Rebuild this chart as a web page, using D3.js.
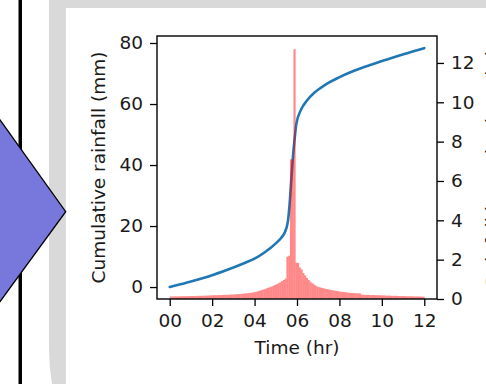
<!DOCTYPE html>
<html>
<head>
<meta charset="utf-8">
<script src="https://cdn.jsdelivr.net/npm/d3@7"></script>
<style>
  html, body { margin: 0; padding: 0; background: #fff; }
  svg { display: block; }
  text { font-family: "DejaVu Sans", sans-serif; fill: #1a1a1a; }
</style>
</head>
<body>
<div id="chart"></div>
<script>
const width = 486;
const height = 384;

// rainfall intensity, one bar every 5 minutes from 00:00 to 12:00 (right axis)
const intensity = [
  0.13, 0.13, 0.13, 0.13, 0.13, 0.14, 0.14, 0.14, 0.14, 0.14, 0.15, 0.15,
  0.15, 0.15, 0.15, 0.16, 0.16, 0.16, 0.16, 0.17, 0.17, 0.17, 0.18, 0.18,
  0.19, 0.19, 0.19, 0.20, 0.20, 0.20, 0.21, 0.21, 0.21, 0.22, 0.22, 0.23,
  0.23, 0.24, 0.24, 0.25, 0.26, 0.27, 0.28, 0.29, 0.30, 0.31, 0.32, 0.34,
  0.36, 0.38, 0.41, 0.44, 0.47, 0.50, 0.53, 0.56, 0.60, 0.63, 0.67, 0.71,
  0.75, 0.80, 0.85, 0.91, 0.97, 1.04, 2.15, 2.20, 7.10, 7.10, 12.7, 1.85,
  1.83, 1.60, 1.50, 1.32, 1.20, 1.07, 0.97, 0.88, 0.80, 0.74, 0.68, 0.63,
  0.60, 0.57, 0.55, 0.53, 0.51, 0.49, 0.47, 0.45, 0.44, 0.42, 0.41, 0.39,
  0.37, 0.36, 0.35, 0.34, 0.33, 0.32, 0.31, 0.30, 0.30, 0.29, 0.29, 0.28,
  0.22, 0.22, 0.21, 0.21, 0.21, 0.20, 0.20, 0.20, 0.19, 0.19, 0.19, 0.18,
  0.18, 0.18, 0.17, 0.17, 0.17, 0.16, 0.16, 0.16, 0.16, 0.15, 0.15, 0.15,
  0.15, 0.14, 0.14, 0.14, 0.14, 0.13, 0.13, 0.13, 0.13, 0.12, 0.12, 0.12
];
const barStep = 1 / 12; // hours

// cumulative rainfall (left axis)
const cumTime = [0, 0.5, 1, 1.5, 2, 2.5, 3, 3.5, 4, 4.5, 4.75, 5.0, 5.25, 5.4, 5.5,
  5.58, 5.65, 5.72, 5.8, 5.88, 5.97, 6.18, 6.49, 6.8, 7.12, 7.5, 7.91, 8.69, 9.49, 10.28, 11.06, 12.0];
const cumRain = [0, 0.9, 1.8, 2.8, 3.9, 5.1, 6.4, 7.8, 9.3, 11.5, 12.8, 14.3, 16.1, 17.6, 19.3,
  22, 27, 34, 42, 48, 53.5, 58, 61.3, 63.6, 65.3, 67.0, 68.5, 70.9, 72.9, 74.7, 76.4, 78.3];

const xTicks = [0, 2, 4, 6, 8, 10, 12];
const leftTicks = [0, 20, 40, 60, 80];
const rightTicks = [0, 2, 4, 6, 8, 10, 12];

const svg = d3.select("#chart")
    .append("svg")
    .attr("width", width)
    .attr("height", height);

// surroundings of the cropped figure
svg.append("rect")
    .attr("x", 49).attr("y", -200)
    .attr("width", 700).attr("height", 744)
    .attr("rx", 194)
    .attr("fill", "#d9d9d9");
svg.append("rect")
    .attr("x", 66).attr("y", 8)
    .attr("width", 500).attr("height", 400)
    .attr("fill", "#fff");
svg.append("rect")
    .attr("x", 18.5).attr("y", 0)
    .attr("width", 3.5).attr("height", height)
    .attr("fill", "#000");
svg.append("polygon")
    .attr("points", "-40,64 65.7,211.7 -40,356.5")
    .attr("fill", "#7878dc")
    .attr("stroke", "#000")
    .attr("stroke-width", 1.3);

const x = d3.scaleLinear().domain([-0.6, 12.6]).range([157, 437]);
const yL = d3.scaleLinear().domain([-3.92, 82.3]).range([299, 36]);
const yR = d3.scaleLinear().domain([0, 13.37]).range([299, 36]);

const fontSize = "18.5px";

// cumulative line
const line = d3.line()
    .x((d, i) => x(cumTime[i]))
    .y(d => yL(d))
    .curve(d3.curveMonotoneX);

svg.append("path")
    .datum(cumRain)
    .attr("d", line)
    .attr("fill", "none")
    .attr("stroke", "#1f77b4")
    .attr("stroke-width", 2.6)
    .attr("stroke-linejoin", "round")
    .attr("stroke-linecap", "round");

// intensity bars (drawn on the twin axis, on top of the line)
svg.append("g")
    .attr("opacity", 0.46)
    .selectAll("rect")
    .data(intensity)
    .enter().append("rect")
    .attr("x", (d, i) => x(i * barStep))
    .attr("width", (d, i) => x((i + 1) * barStep) - x(i * barStep) + 0.4)
    .attr("y", d => yR(d))
    .attr("height", d => yR(0) - yR(d))
    .attr("fill", "red");

// axes
function styleAxis(g) {
    g.select(".domain").remove();
    g.selectAll(".tick line").attr("stroke", "#000").attr("stroke-width", 1.3);
    g.selectAll(".tick text")
        .style("font-size", fontSize)
        .style("font-family", "DejaVu Sans")
        .attr("fill", "#1a1a1a");
}

svg.append("g")
    .attr("transform", "translate(157,0)")
    .call(d3.axisLeft(yL).tickValues(leftTicks).tickSize(7).tickPadding(7))
    .call(styleAxis);

svg.append("g")
    .attr("transform", "translate(437,0)")
    .call(d3.axisRight(yR).tickValues(rightTicks).tickSize(7).tickPadding(7))
    .call(styleAxis);

svg.append("g")
    .attr("transform", "translate(0,299)")
    .call(d3.axisBottom(x).tickValues(xTicks).tickSize(7).tickPadding(8)
        .tickFormat(d => String(d).padStart(2, "0")))
    .call(styleAxis);

svg.append("rect")
    .attr("x", 157).attr("y", 36)
    .attr("width", 280).attr("height", 263)
    .attr("fill", "none")
    .attr("stroke", "#000")
    .attr("stroke-width", 1.4);

// labels
svg.append("text")
    .attr("transform", "translate(105,167.5) rotate(-90)")
    .attr("text-anchor", "middle")
    .style("font-size", fontSize)
    .text("Cumulative rainfall (mm)");

svg.append("text")
    .attr("x", 297)
    .attr("y", 354)
    .attr("text-anchor", "middle")
    .style("font-size", fontSize)
    .text("Time (hr)");

// right-hand label, cut off by the edge of the crop as in the reference
svg.append("text")
    .attr("transform", "translate(499,167.5) rotate(-90)")
    .attr("text-anchor", "middle")
    .style("font-size", fontSize)
    .text("Rainfall intensity (mm/hr)");
</script>
</body>
</html>
